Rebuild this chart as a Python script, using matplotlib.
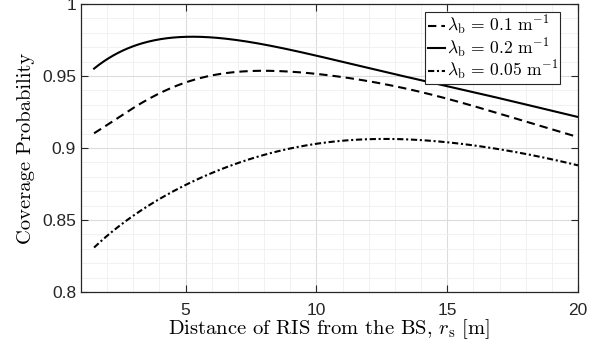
# Coverage probability vs RIS distance
import numpy as np
import matplotlib
matplotlib.use('Agg')
import matplotlib.pyplot as plt
from matplotlib.ticker import MultipleLocator, FuncFormatter

plt.rcParams['mathtext.fontset'] = 'cm'
plt.rcParams['axes.unicode_minus'] = False
plt.rcParams['font.family'] = ['Liberation Sans', 'DejaVu Sans']

# Dados
r_s = [1.5, 2, 2.5, 3, 4, 5, 6, 7, 8, 9, 10, 11, 12, 13, 14, 15, 16, 17, 18, 19, 20]
pc_01 = [0.910, 0.9165, 0.922, 0.9275, 0.938, 0.9455, 0.9505, 0.953, 0.9535, 0.953,
         0.9515, 0.949, 0.9465, 0.943, 0.939, 0.934, 0.929, 0.924, 0.9185, 0.913, 0.9076]
pc_02 = [0.9555, 0.961, 0.9665, 0.9715, 0.9755, 0.977, 0.9765, 0.975, 0.972, 0.968,
         0.9642, 0.960, 0.9555, 0.951, 0.947, 0.943, 0.939, 0.9345, 0.930, 0.926, 0.9215]
pc_005 = [0.831, 0.839, 0.846, 0.853, 0.865, 0.8745, 0.8825, 0.889, 0.8955, 0.8995,
          0.9035, 0.905, 0.906, 0.906, 0.9055, 0.904, 0.902, 0.899, 0.896, 0.892, 0.888]

# Curvas suaves a partir dos pontos lidos
x_fino = np.linspace(r_s[0], r_s[-1], 400)
def suave(y):
    c = np.polyfit(r_s, y, 7)
    return np.polyval(c, x_fino)

fig = plt.figure(figsize=(6.03, 3.47), dpi=100)
ax = fig.add_axes([0.1343, 0.1585, 0.8242, 0.83])

ax.plot(x_fino, suave(pc_01), color='k', lw=1.5, linestyle=(0, (4, 2.4)),
        label=r'$\lambda_\mathrm{b}\,=\,0.1\ \mathrm{m}^{-1}$')
ax.plot(x_fino, suave(pc_02), color='k', lw=1.5, linestyle='-',
        label=r'$\lambda_\mathrm{b}\,=\,0.2\ \mathrm{m}^{-1}$')
ax.plot(x_fino, suave(pc_005), color='k', lw=1.5, linestyle=(0, (3, 1.3, 1, 1.3)),
        label=r'$\lambda_\mathrm{b}\,=\,0.05\ \mathrm{m}^{-1}$')

ax.set_xlim(1, 20)
ax.set_ylim(0.8, 1)
ax.set_xticks([5, 10, 15, 20])
ax.set_yticks([0.8, 0.85, 0.9, 0.95, 1])
ax.yaxis.set_major_formatter(FuncFormatter(lambda v, p: '%g' % v))
ax.xaxis.set_minor_locator(MultipleLocator(1))
ax.yaxis.set_minor_locator(MultipleLocator(0.01))

ax.grid(which='major', color='#dcdcdc', lw=0.8)
ax.grid(which='minor', color='#efefef', lw=0.6)
ax.set_axisbelow(True)

ax.tick_params(which='major', direction='in', top=True, right=True, length=5,
               labelsize=12.5, color='#262626', labelcolor='#262626', width=0.8)
ax.tick_params(axis='x', which='major', pad=8)
ax.tick_params(which='minor', length=0)
for s in ax.spines.values():
    s.set_color('#262626')
    s.set_linewidth(0.9)

ax.set_xlabel(r'Distance of RIS from the BS, $r_\mathrm{s}$ [m]', fontsize=14.8,
              family='cmr10', labelpad=-1)
ax.set_ylabel('Coverage Probability', fontsize=14.8, family='cmr10', labelpad=5)

leg = ax.legend(loc='upper right', bbox_to_anchor=(0.964, 0.972), fontsize=12.6,
                handlelength=1.0, handletextpad=0.1, borderpad=0.12, labelspacing=-0.05,
                borderaxespad=0, fancybox=False, framealpha=1, edgecolor='#262626')
leg.get_frame().set_linewidth(0.8)

plt.savefig('out.png', dpi=100)
